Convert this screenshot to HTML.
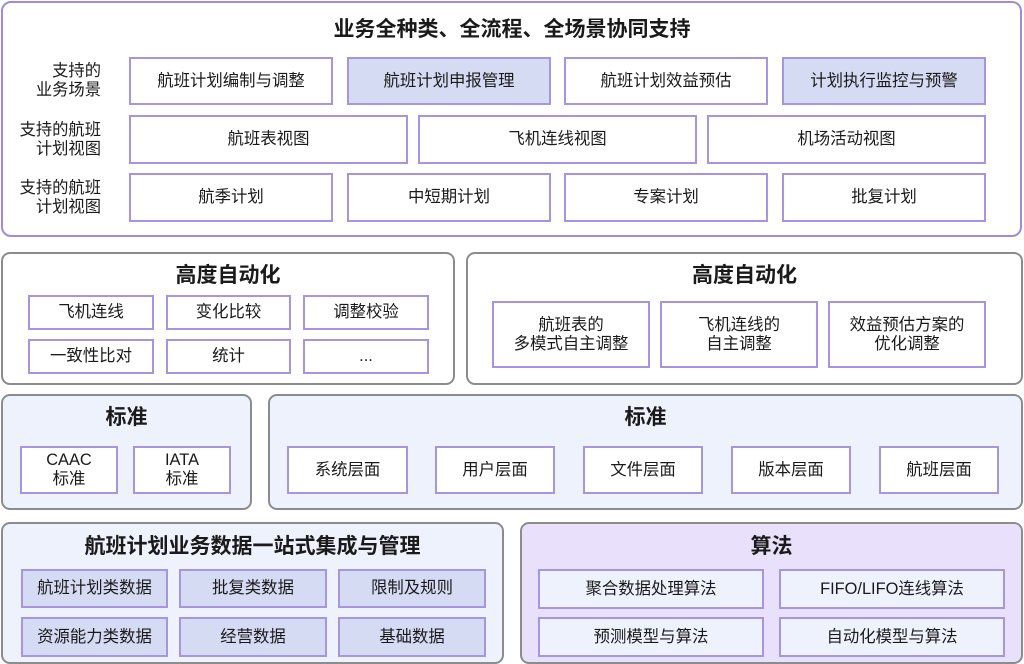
<!DOCTYPE html>
<html><head><meta charset="utf-8"><style>
*{box-sizing:border-box;margin:0;padding:0}
body{width:1024px;height:664px;background:#fff;position:relative;overflow:hidden;font-family:"Liberation Sans","Noto Sans CJK SC",sans-serif;color:#1a1a1a}
.p{position:absolute;border-radius:10px}
.pu{border:2px solid #9f8ae0}
.gr{border:2px solid #8c8c8c}
.b{position:absolute;border:2px solid #a795e2;background:#fff;display:flex;align-items:center;justify-content:center;text-align:center;font-size:16.4px;line-height:19px}
.h{background:#d6dbf4}
.lb{background:#eef2fc}
.t{position:absolute;font-weight:bold;font-size:21px;text-align:center;line-height:24px}
.lab{position:absolute;right:923px;text-align:right;font-size:16.3px;line-height:19px;white-space:nowrap}
</style></head><body>

<div class="p pu" style="left:1px;top:1px;width:1021px;height:236px"></div>
<div class="t" style="left:0;width:1024px;top:18px;font-size:21px">业务全种类、全流程、全场景协同支持</div>

<div class="lab" style="top:62px">支持的<br>业务场景</div>
<div class="lab" style="top:121px">支持的航班<br>计划视图</div>
<div class="lab" style="top:179px">支持的航班<br>计划视图</div>

<div class="b" style="left:129px;top:57px;width:204px;height:48px">航班计划编制与调整</div>
<div class="b h" style="left:347px;top:57px;width:204px;height:48px">航班计划申报管理</div>
<div class="b" style="left:564px;top:57px;width:204px;height:48px">航班计划效益预估</div>
<div class="b h" style="left:782px;top:57px;width:204px;height:48px">计划执行监控与预警</div>

<div class="b" style="left:129px;top:115px;width:279px;height:49px">航班表视图</div>
<div class="b" style="left:418px;top:115px;width:279px;height:49px">飞机连线视图</div>
<div class="b" style="left:707px;top:115px;width:279px;height:49px">机场活动视图</div>

<div class="b" style="left:129px;top:173px;width:204px;height:49px">航季计划</div>
<div class="b" style="left:347px;top:173px;width:204px;height:49px">中短期计划</div>
<div class="b" style="left:564px;top:173px;width:204px;height:49px">专案计划</div>
<div class="b" style="left:782px;top:173px;width:204px;height:49px">批复计划</div>

<!-- automation left -->
<div class="p gr" style="left:1px;top:252px;width:454px;height:133px;border-radius:9px"></div>
<div class="t" style="left:1px;width:454px;top:264px">高度自动化</div>
<div class="b" style="left:28px;top:295px;width:126px;height:35px">飞机连线</div>
<div class="b" style="left:166px;top:295px;width:125px;height:35px">变化比较</div>
<div class="b" style="left:303px;top:295px;width:126px;height:35px">调整校验</div>
<div class="b" style="left:28px;top:339px;width:126px;height:35px">一致性比对</div>
<div class="b" style="left:166px;top:339px;width:125px;height:35px">统计</div>
<div class="b" style="left:303px;top:339px;width:126px;height:35px">...</div>

<!-- automation right -->
<div class="p gr" style="left:466px;top:252px;width:557px;height:133px;border-radius:9px"></div>
<div class="t" style="left:466px;width:557px;top:264px">高度自动化</div>
<div class="b" style="left:492px;top:301px;width:158px;height:67px">航班表的<br>多模式自主调整</div>
<div class="b" style="left:660px;top:301px;width:158px;height:67px">飞机连线的<br>自主调整</div>
<div class="b" style="left:828px;top:301px;width:158px;height:67px">效益预估方案的<br>优化调整</div>

<!-- standard left -->
<div class="p gr lb" style="left:1px;top:394px;width:251px;height:116px;border-radius:9px"></div>
<div class="t" style="left:1px;width:251px;top:406px">标准</div>
<div class="b" style="left:20px;top:446px;width:98px;height:48px">CAAC<br>标准</div>
<div class="b" style="left:133px;top:446px;width:98px;height:48px">IATA<br>标准</div>

<!-- standard right -->
<div class="p gr lb" style="left:268px;top:394px;width:755px;height:116px;border-radius:9px"></div>
<div class="t" style="left:268px;width:755px;top:406px">标准</div>
<div class="b" style="left:287px;top:446px;width:121px;height:48px">系统层面</div>
<div class="b" style="left:435px;top:446px;width:120px;height:48px">用户层面</div>
<div class="b" style="left:583px;top:446px;width:120px;height:48px">文件层面</div>
<div class="b" style="left:731px;top:446px;width:120px;height:48px">版本层面</div>
<div class="b" style="left:879px;top:446px;width:120px;height:48px">航班层面</div>

<!-- data -->
<div class="p gr lb" style="left:1px;top:522px;width:503px;height:142px;border-radius:9px"></div>
<div class="t" style="left:1px;width:503px;top:535px">航班计划业务数据一站式集成与管理</div>
<div class="b h" style="left:21px;top:569px;width:147px;height:39px">航班计划类数据</div>
<div class="b h" style="left:179px;top:569px;width:148px;height:39px">批复类数据</div>
<div class="b h" style="left:338px;top:569px;width:148px;height:39px">限制及规则</div>
<div class="b h" style="left:21px;top:617px;width:147px;height:40px">资源能力类数据</div>
<div class="b h" style="left:179px;top:617px;width:148px;height:40px">经营数据</div>
<div class="b h" style="left:338px;top:617px;width:148px;height:40px">基础数据</div>

<!-- algorithm -->
<div class="p gr" style="left:520px;top:522px;width:503px;height:142px;border-radius:9px;background:#e9e1fb"></div>
<div class="t" style="left:520px;width:503px;top:535px">算法</div>
<div class="b lb" style="left:538px;top:569px;width:226px;height:40px">聚合数据处理算法</div>
<div class="b lb" style="left:779px;top:569px;width:226px;height:40px">FIFO/LIFO连线算法</div>
<div class="b lb" style="left:538px;top:617px;width:226px;height:40px">预测模型与算法</div>
<div class="b lb" style="left:779px;top:617px;width:226px;height:40px">自动化模型与算法</div>

</body></html>
